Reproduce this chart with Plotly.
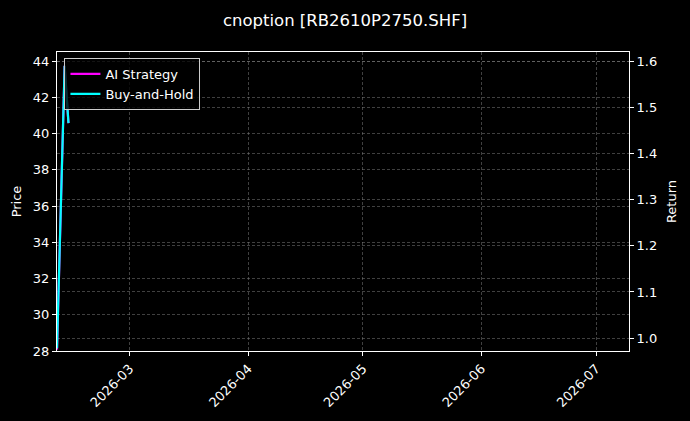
"""cnoption backtest chart: AI strategy vs buy-and-hold cumulative return."""

import plotly.graph_objects as go

# data
dates = ["2026-02-10", "2026-02-11", "2026-02-12", "2026-02-13"]
ai_strategy = [0.975, 1.29, 1.59, 1.466]
buy_and_hold = [0.978, 1.30, 1.59, 1.466]

price_ticks = [28, 30, 32, 34, 36, 38, 40, 42, 44]
return_ticks = [1.0, 1.1, 1.2, 1.3, 1.4, 1.5, 1.6]
month_ticks = ["2026-03-01", "2026-04-01", "2026-05-01", "2026-06-01", "2026-07-01"]
month_labels = ["2026-03", "2026-04", "2026-05", "2026-06", "2026-07"]

FONT = "DejaVu Sans, sans-serif"
GRID = "rgba(128,128,128,0.5)"

fig = go.Figure()

fig.add_trace(
    go.Scatter(
        x=dates, y=ai_strategy, name="AI Strategy", mode="lines",
        line=dict(color="#ff00ff", width=2.2), yaxis="y2",
    )
)
fig.add_trace(
    go.Scatter(
        x=dates, y=buy_and_hold, name="Buy-and-Hold", mode="lines",
        line=dict(color="#00ffff", width=2.2), yaxis="y2",
    )
)
# empty trace so the price axis is drawn
fig.add_trace(go.Scatter(x=[], y=[], yaxis="y", showlegend=False))

axis_common = dict(
    showline=True, linecolor="white", linewidth=1,
    ticks="outside", tickcolor="white", ticklen=4,
    tickfont=dict(color="white", size=13, family=FONT),
    gridcolor=GRID, griddash="3px,2px", gridwidth=0.7,
    zeroline=False,
)

fig.update_layout(
    width=690,
    height=421,
    paper_bgcolor="black",
    plot_bgcolor="black",
    font=dict(family=FONT, color="white"),
    title=dict(
        text="cnoption [RB2610P2750.SHF]",
        x=0.5, xanchor="center", y=0.952, yanchor="middle",
        font=dict(size=16.5, color="white", family=FONT),
    ),
    margin=dict(l=57, r=61, t=52, b=70),
    xaxis=dict(
        **axis_common,
        range=["2026-02-10", "2026-07-09 14:00"],
        tickvals=month_ticks,
        ticktext=month_labels,
        tickangle=-45,
        mirror=True,
    ),
    yaxis=dict(
        **axis_common,
        range=[28, 44.5],
        tickvals=price_ticks,
        title=dict(text="Price", font=dict(size=13, color="white", family=FONT), standoff=8),
        mirror=True,
    ),
    yaxis2=dict(
        **axis_common,
        overlaying="y",
        side="right",
        range=[0.972, 1.62],
        tickvals=return_ticks,
        tickformat=".1f",
        title=dict(text="Return", font=dict(size=13, color="white", family=FONT), standoff=10),
    ),
    legend=dict(
        x=0.013, y=0.98, xanchor="left", yanchor="top",
        bgcolor="rgba(0,0,0,0.8)",
        bordercolor="#cccccc", borderwidth=1,
        font=dict(size=13, color="white", family=FONT),
        tracegroupgap=0,
        itemwidth=30,
    ),
    showlegend=True,
)

fig.write_html(
    "out.html",
    config={"displayModeBar": False},
    post_script="document.body.style.margin='0';document.body.style.background='black';",
)
